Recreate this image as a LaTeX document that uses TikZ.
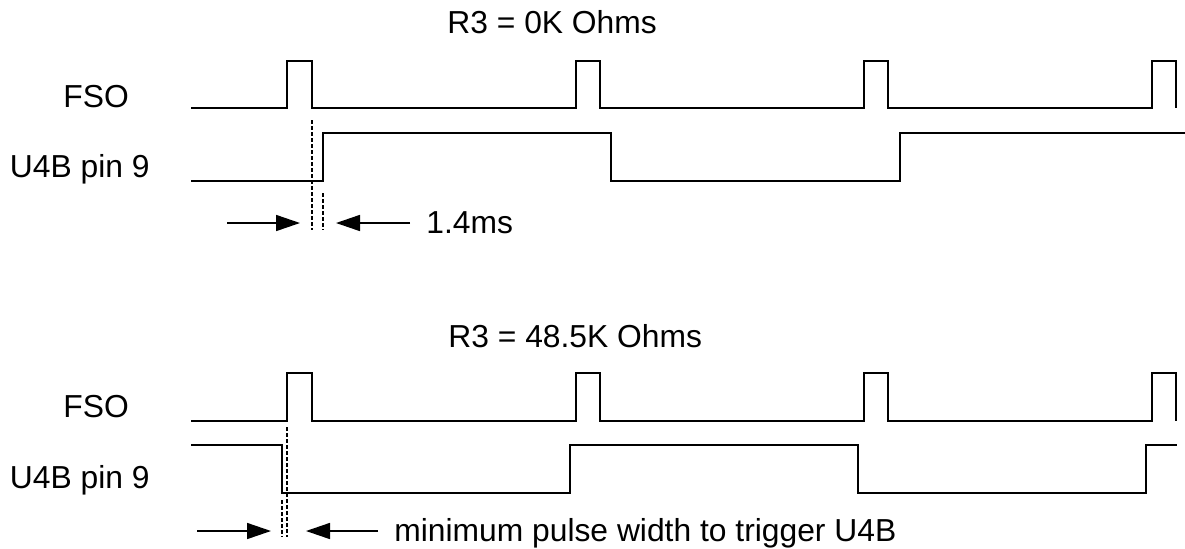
\documentclass[tikz,border=0pt]{standalone}
\usepackage{fontspec}
\setmainfont{Liberation Sans}
\usetikzlibrary{arrows.meta}
\begin{document}
\begin{tikzpicture}[x=0.5pt,y=-0.5pt,
  wave/.style={line width=1.1pt, line join=miter},
  dimline/.style={line width=0.8pt, -{Triangle[length=12pt,width=8pt]}},
  guide/.style={line width=0.6pt, dash pattern=on 2pt off 1pt},
  lbl/.style={inner sep=0pt, font=\fontsize{15.9}{18}\selectfont}]
\useasboundingbox (0,0) rectangle (1185,548);
% ---------- top diagram ----------
\node[lbl, anchor=base west] (t1) at (447,33) {R3 = 0K Ohms};
\node[lbl, anchor=base west] (fso1) at (63,107) {FSO};
\node[lbl, anchor=base east] (u1) at (150,177) {U4B pin 9};
\draw[wave] (191,108) -| (287,61) -| (312,108) -| (576,61) -| (600,108)
  -| (864,61) -| (888,108) -| (1152,61) -| (1176,108);
\draw[wave] (191,181) -| (323,133) -| (611,181) -| (900,133) -- (1185,133);
\coordinate (d1a) at (312,120); \coordinate (d1b) at (312,230);
\coordinate (d2a) at (323,193); \coordinate (d2b) at (323,230);
\draw[guide] (d1a) -- (d1b);
\draw[guide] (d2a) -- (d2b);
\coordinate (a1s) at (227,223); \coordinate (a1e) at (300,223);
\coordinate (a2s) at (410,223); \coordinate (a2e) at (336,223);
\draw[dimline] (a1s) -- (a1e);
\draw[dimline] (a2s) -- (a2e);
\node[lbl, anchor=base west] (m1) at (426,233) {1.4ms};
% ---------- bottom diagram ----------
\node[lbl, anchor=base west] (t2) at (448,347) {R3 = 48.5K Ohms};
\node[lbl, anchor=base west] (fso2) at (63,417) {FSO};
\node[lbl, anchor=base east] (u2) at (150,488) {U4B pin 9};
\draw[wave] (191,421) -| (287,373) -| (312,421) -| (576,373) -| (600,421)
  -| (864,373) -| (888,421) -| (1152,373) -| (1176,421);
\draw[wave] (191,445) -| (282,493) -| (570,445) -| (858,493) -| (1146,445) -- (1177,445);
\coordinate (d3a) at (287,427); \coordinate (d3b) at (287,537);
\coordinate (d4a) at (282,500); \coordinate (d4b) at (282,537);
\draw[guide] (d3a) -- (d3b);
\draw[guide] (d4a) -- (d4b);
\coordinate (a3s) at (197,531); \coordinate (a3e) at (271,531);
\coordinate (a4s) at (378,531); \coordinate (a4e) at (306,531);
\draw[dimline] (a3s) -- (a3e);
\draw[dimline] (a4s) -- (a4e);
\node[lbl, anchor=base west] (m2) at (394,541) {minimum pulse width to trigger U4B};
\end{tikzpicture}
\end{document}
